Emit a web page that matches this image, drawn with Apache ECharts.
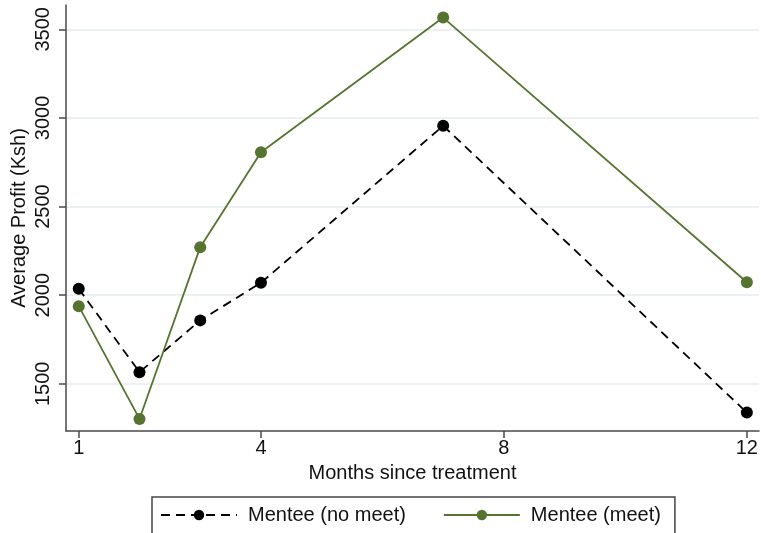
<!DOCTYPE html>
<html>
<head>
<meta charset="utf-8">
<script src="https://cdn.jsdelivr.net/npm/echarts@6/dist/echarts.min.js"></script>
<style>
  html, body { margin: 0; padding: 0; background: #fff; }
  #chart { width: 761px; height: 533px; }
</style>
</head>
<body>
<div id="chart"></div>
<script>
const months = [1, 2, 3, 4, 7, 12]
const noMeet = [2036, 1566, 1858, 2070, 2956, 1338]
const meet = [1938, 1302, 2271, 2806, 3566, 2073]
const xTicks = [1, 4, 8, 12]
const yTicks = [1500, 2000, 2500, 3000, 3500]

const font = "Liberation Sans, Arial, Helvetica, sans-serif"
const green = "#55752f"
const axisColor = "#4a4a4a"

const chart = echarts.init(document.getElementById("chart"))

chart.setOption({
  animation: false,
  textStyle: { fontFamily: font },
  grid: { left: 66, right: 2, top: 5, bottom: 102, containLabel: false, outerBoundsMode: "none" },
  legend: {
    left: 152,
    top: 497,
    orient: "horizontal",
    padding: [8, 14, 20, 8],
    borderColor: "#444",
    borderWidth: 1.5,
    itemWidth: 76,
    itemHeight: 13,
    itemGap: 37,
    textStyle: { fontSize: 20, color: "#111", padding: [0, 0, 0, 6] },
    data: ["Mentee (no meet)", "Mentee (meet)"],
  },
  xAxis: {
    type: "value",
    min: 0.79,
    max: 12.2,
    name: "Months since treatment",
    nameLocation: "middle",
    nameGap: 32,
    nameTextStyle: { fontSize: 20, color: "#111" },
    axisLine: { lineStyle: { color: axisColor, width: 1.5 } },
    axisTick: { show: true, length: 7, customValues: xTicks, lineStyle: { color: axisColor, width: 1.5 } },
    axisLabel: { customValues: xTicks, fontSize: 20, color: "#111", margin: 7 },
    splitLine: { show: false },
  },
  yAxis: {
    type: "value",
    min: 1234,
    max: 3637,
    name: "Average Profit (Ksh)",
    nameLocation: "middle",
    nameGap: 37,
    nameMoveOverlap: false,
    nameTextStyle: { fontSize: 20, color: "#111" },
    axisLine: { show: true, lineStyle: { color: axisColor, width: 1.5 } },
    axisTick: { show: true, length: 7, customValues: yTicks, lineStyle: { color: axisColor, width: 1.5 } },
    axisLabel: { customValues: yTicks, rotate: 90, fontSize: 20, color: "#111", margin: 13, formatter: (v) => String(v) },
    splitLine: { show: true, lineStyle: { color: "#e4edef", width: 1.5 } },
  },
  series: [
    {
      name: "Mentee (no meet)",
      type: "line",
      data: months.map((m, i) => [m, noMeet[i]]),
      symbol: "circle",
      symbolSize: 12,
      itemStyle: { color: "#000" },
      lineStyle: { color: "#000", width: 1.8, type: [9, 6] },
    },
    {
      name: "Mentee (meet)",
      type: "line",
      data: months.map((m, i) => [m, meet[i]]),
      symbol: "circle",
      symbolSize: 12,
      itemStyle: { color: green },
      lineStyle: { color: green, width: 1.8 },
    },
  ],
})
</script>
</body>
</html>
